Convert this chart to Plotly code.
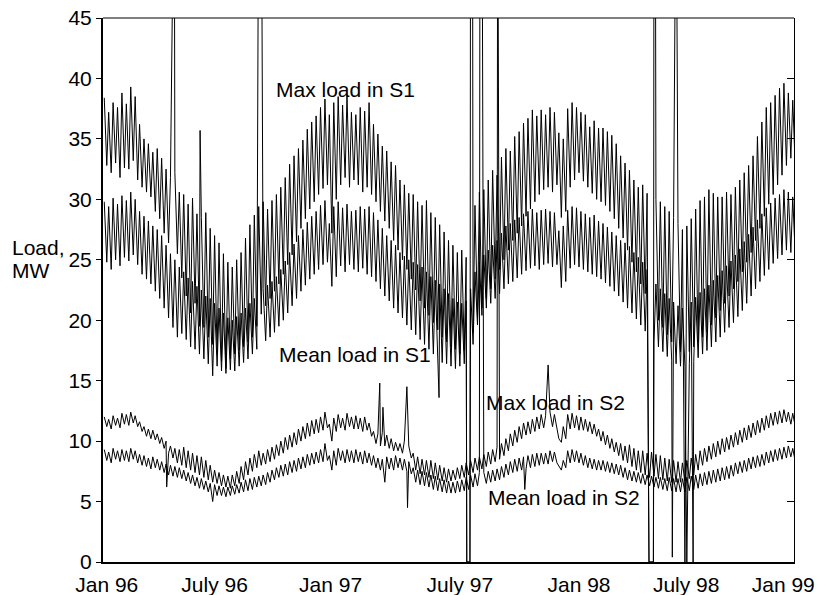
import pandas as pd
import plotly.graph_objects as go

# ---------------- data (MW) ----------------
# one weekday peak and one weekend trough per week, weeks starting Mon 1996-01-01
WEEK_START = pd.date_range("1996-01-01", periods=157, freq="7D")

MAX_S1_HI = [
    38.4, 37.2, 38.0, 37.6, 38.8, 37.9, 39.3, 38.5, 36.2, 35.0, 34.6, 33.9, 34.2,
    33.4, 32.5, 31.8, 32.2, 30.6, 30.4, 29.6, 30.1, 28.8, 28.5, 28.9, 27.6, 27.0,
    26.4, 25.5, 24.8, 24.4, 25.0, 25.6, 26.8, 27.9, 28.7, 29.4, 29.8, 29.2, 29.9, 30.4,
    31.0, 31.8, 32.9, 33.6, 34.2, 34.9, 35.8, 36.4, 36.9, 37.6, 38.3, 37.0, 38.0,
    38.5, 37.8, 38.6, 37.2, 37.0, 37.6, 37.3, 38.0, 36.2, 35.4, 34.4, 34.0, 33.1,
    32.8, 31.6, 31.2, 30.5, 30.4, 29.8, 29.5, 29.9, 28.9, 28.5, 27.9, 27.3, 26.6,
    26.2, 25.6, 25.8, 25.2, 27.5, 29.5, 30.6, 30.8, 31.6, 32.4, 32.0, 33.5, 34.2,
    34.0, 35.2, 35.6, 36.3, 36.7, 37.4, 36.9, 37.4, 37.0, 37.6, 37.2, 35.5, 35.0,
    37.5, 38.0, 37.6, 37.2, 37.0, 36.0, 36.5, 35.9, 35.9, 35.6, 35.3, 34.6, 33.6,
    33.0, 32.4, 31.6, 31.0, 31.2, 30.5, 30.6, 30.0, 29.8, 29.4, 29.0, 28.5, 28.0,
    27.5, 27.8, 28.4, 29.2, 29.9, 30.2, 30.8, 30.5, 30.2, 30.2, 30.6, 30.4, 31.0,
    31.6, 32.2, 32.8, 33.6, 35.2, 36.4, 37.6, 38.0, 38.6, 39.2, 39.6, 38.8, 38.2,
]
MAX_S1_LO = [
    32.8, 32.2, 33.0, 31.8, 32.6, 32.5, 33.2, 31.6, 31.0, 30.6, 30.2, 29.0, 28.4,
    27.2, 26.4, 24.8, 25.5, 23.5, 22.0, 20.6, 21.4, 19.5, 19.4, 18.6, 18.0, 17.2,
    16.6, 16.0, 16.8, 17.2, 17.5, 17.8, 18.2, 18.6, 19.5, 20.5, 21.2, 21.8, 22.4, 23.0,
    23.8, 24.6, 25.4, 26.5, 27.6, 28.4, 29.2, 29.8, 30.4, 30.9, 31.2, 27.2, 30.0,
    31.2, 31.8, 31.0, 31.6, 31.2, 30.6, 31.0, 30.4, 29.8, 29.0, 28.2, 27.6, 26.6,
    25.8, 25.0, 24.2, 23.4, 22.5, 21.6, 21.0, 20.4, 19.8, 19.2, 18.6, 18.2, 17.8,
    17.6, 17.2, 17.5, 17.8, 19.0, 20.2, 21.0, 21.8, 22.6, 23.4, 24.2, 25.0, 25.8,
    26.6, 27.2, 27.8, 28.6, 29.2, 29.8, 30.4, 30.8, 31.0, 30.6, 31.2, 28.5, 29.0,
    31.0, 31.6, 32.2, 31.5, 31.0, 30.5, 30.0, 29.8, 29.5, 29.0, 28.4, 27.6, 26.8,
    25.8, 24.8, 24.0, 23.0, 22.2, 21.5, 20.8, 20.0, 19.4, 18.8, 18.2, 17.8, 17.4,
    17.0, 17.4, 17.8, 18.2, 18.6, 19.0, 19.6, 20.2, 20.8, 21.4, 22.0, 22.6, 23.2,
    24.0, 24.8, 25.6, 26.6, 27.6, 28.6, 29.6, 30.4, 31.2, 32.0, 32.8, 33.4, 32.6,
]
MEAN_S1_HI = [
    29.8, 29.4, 30.1, 29.6, 30.3, 29.9, 30.6, 30.0, 29.0, 28.6, 28.2, 27.8, 27.5,
    27.0, 26.2, 25.5, 25.0, 24.4, 24.0, 23.5, 23.2, 22.8, 22.5, 22.0, 21.8, 21.4,
    21.0, 20.6, 20.2, 20.0, 20.3, 20.6, 21.0, 21.4, 21.8, 22.2, 22.6, 22.9, 23.2, 23.6,
    24.2, 24.9, 25.6, 26.3, 27.0, 27.5, 28.1, 28.6, 29.0, 29.5, 29.9, 28.0, 29.4,
    29.8, 29.3, 29.6, 29.0, 29.1, 29.4, 29.2, 29.4, 28.9, 28.3, 27.6, 27.0, 26.6,
    26.2, 25.6, 25.3, 25.0, 24.8, 24.6, 24.4, 24.0, 23.6, 23.3, 23.0, 22.6, 22.2,
    21.8, 21.5, 21.4, 21.6, 22.6, 24.0, 24.8, 25.4, 25.8, 26.2, 26.6, 27.2, 27.8,
    28.0, 28.3, 28.5, 28.8, 29.0, 29.2, 28.9, 29.1, 29.2, 29.0, 28.9, 27.4, 27.8,
    29.1, 29.4, 29.3, 29.0, 28.8, 28.5, 28.7, 28.2, 28.0, 27.7, 27.3, 27.0, 26.6,
    26.4, 26.1, 25.6, 25.2, 24.8, 24.2, 23.6, 23.0, 22.6, 22.2, 21.8, 21.5, 21.2,
    21.0, 21.2, 21.5, 21.9, 22.3, 22.6, 22.9, 23.3, 23.7, 24.1, 24.5, 24.9, 25.4,
    25.9, 26.5, 27.1, 27.7, 28.3, 28.8, 29.3, 29.7, 30.1, 30.4, 30.8, 30.6, 30.2,
]
MEAN_S1_LO = [
    24.8, 24.2, 25.0, 24.5, 25.2, 24.9, 25.4, 24.6, 23.8, 23.4, 23.0, 22.4, 21.8,
    21.0, 20.2, 19.4, 18.6, 18.9, 18.4, 17.8, 17.6, 17.2, 16.8, 16.4, 15.4, 16.2,
    15.8, 15.6, 15.9, 15.8, 16.2, 16.5, 16.8, 17.2, 17.6, 17.9, 18.3, 18.6, 19.0, 19.5,
    20.0, 20.6, 21.2, 21.8, 22.4, 22.9, 23.4, 23.8, 24.2, 24.6, 24.8, 22.8, 23.6,
    24.5, 24.0, 24.6, 24.2, 24.0, 24.3, 23.8, 23.6, 23.2, 22.6, 22.0, 21.6, 21.0,
    20.6, 20.2, 19.6, 19.2, 18.8, 18.4, 18.0, 17.6, 17.2, 16.8, 16.5, 16.4, 16.2,
    16.0, 16.2, 16.4, 16.6, 18.0, 19.6, 20.4, 21.0, 21.4, 21.8, 22.2, 22.6, 23.0,
    23.2, 23.5, 23.8, 24.1, 24.3, 24.5, 24.2, 24.6, 24.7, 24.4, 24.6, 22.7, 23.2,
    24.3, 24.6, 24.4, 24.2, 24.0, 23.8, 23.6, 23.4, 23.1, 22.8, 22.4, 22.0, 21.5,
    21.0, 20.6, 20.1, 19.6, 19.1, 18.6, 18.2, 17.8, 17.4, 17.0, 16.7, 16.4, 16.2,
    16.2, 16.4, 16.6, 16.9, 17.2, 17.5, 17.8, 18.2, 18.6, 19.0, 19.4, 19.8, 20.3,
    20.8, 21.4, 22.0, 22.6, 23.2, 23.7, 24.2, 24.7, 25.1, 25.4, 25.8, 25.6, 25.3,
]
MAX_S2_HI = [
    12.0, 11.8, 12.1, 11.9, 12.3, 12.2, 12.4, 12.1, 11.6, 11.2, 11.0, 10.9, 10.6,
    10.3, 10.0, 9.6, 9.4, 9.3, 9.5, 9.2, 9.0, 8.8, 8.7, 8.4, 8.0, 7.6,
    7.4, 7.2, 7.1, 7.2, 7.5, 7.9, 8.3, 8.6, 8.9, 9.2, 9.0, 9.3, 9.5, 9.7,
    10.0, 10.3, 10.5, 10.7, 11.0, 11.2, 11.5, 11.7, 11.8, 12.0, 12.4, 11.4, 11.9,
    12.2, 11.9, 12.3, 12.0, 12.1, 11.9, 12.0, 11.5, 10.8, 10.6, 10.7, 10.5, 10.2,
    9.9, 9.8, 10.0, 9.6, 9.0, 8.7, 8.5, 8.4, 8.4, 8.2, 8.0, 7.8, 7.7,
    7.6, 7.8, 8.0, 8.2, 8.4, 8.6, 8.7, 8.9, 9.1, 9.3, 9.5, 9.8, 10.2,
    10.6, 10.9, 11.2, 11.5, 11.6, 11.8, 12.0, 12.2, 12.1, 12.4, 12.2, 10.2, 11.2,
    12.2, 12.3, 12.1, 12.0, 11.8, 11.6, 11.4, 11.0, 10.8, 10.5, 10.2, 9.9, 9.8,
    9.6, 9.7, 9.4, 9.2, 9.2, 9.0, 9.1, 8.9, 8.8, 8.6, 8.5, 8.4, 8.3,
    8.2, 8.4, 8.6, 8.9, 9.2, 9.4, 9.6, 9.8, 10.0, 10.2, 10.3, 10.5, 10.7,
    10.9, 11.1, 11.3, 11.5, 11.7, 11.9, 12.1, 12.3, 12.4, 12.5, 12.6, 12.4, 12.3,
]
MAX_S2_LO = [
    11.2, 11.0, 11.3, 11.1, 11.4, 11.3, 11.5, 11.2, 10.8, 10.4, 10.2, 10.1, 9.8,
    9.4, 9.0, 8.6, 8.2, 8.0, 7.8, 7.6, 7.4, 7.2, 7.0, 6.8, 6.6, 6.5,
    6.3, 6.2, 6.1, 6.3, 6.5, 6.8, 7.2, 7.5, 7.8, 8.0, 8.1, 8.3, 8.5, 8.8,
    9.0, 9.3, 9.5, 9.7, 10.0, 10.2, 10.4, 10.6, 10.7, 10.9, 11.1, 10.0, 10.8,
    11.1, 10.9, 11.2, 11.0, 11.0, 10.8, 10.9, 10.4, 9.8, 9.6, 9.6, 9.4, 9.2,
    9.2, 9.0, 9.1, 8.6, 7.6, 7.3, 7.2, 7.0, 6.9, 6.8, 6.7, 6.6, 6.7,
    6.8, 6.9, 7.0, 7.2, 7.4, 7.6, 7.7, 7.9, 8.1, 8.3, 8.5, 8.8, 9.2,
    9.6, 9.9, 10.2, 10.5, 10.6, 10.8, 11.0, 11.1, 11.1, 11.2, 11.0, 9.9, 10.2,
    11.0, 11.1, 10.9, 10.9, 10.8, 10.6, 10.4, 10.0, 9.7, 9.4, 9.1, 8.8, 8.4,
    8.2, 7.9, 7.6, 7.4, 7.2, 7.0, 7.1, 6.9, 6.8, 6.7, 6.6, 6.6, 6.6,
    6.7, 6.9, 7.2, 7.6, 8.0, 8.3, 8.5, 8.7, 8.9, 9.1, 9.3, 9.5, 9.7,
    9.9, 10.1, 10.3, 10.5, 10.7, 10.9, 11.1, 11.3, 11.4, 11.5, 11.6, 11.4, 11.2,
]
MEAN_S2_HI = [
    9.3, 9.1, 9.4, 9.2, 9.3, 9.2, 9.4, 9.2, 8.9, 8.8, 8.6, 8.7, 8.5,
    8.3, 8.1, 8.0, 7.9, 7.8, 7.6, 7.4, 7.2, 7.0, 6.9, 6.7, 6.5, 6.4,
    6.3, 6.2, 6.2, 6.3, 6.4, 6.6, 6.8, 6.9, 7.0, 7.1, 7.2, 7.4, 7.6, 7.8,
    8.0, 8.1, 8.3, 8.4, 8.6, 8.7, 8.9, 9.0, 9.1, 9.3, 9.8, 8.8, 9.2,
    9.4, 9.2, 9.3, 9.2, 9.3, 9.1, 9.2, 9.0, 8.8, 8.6, 8.5, 8.7, 8.6,
    8.8, 8.6, 8.5, 8.3, 7.8, 7.6, 7.5, 7.4, 7.2, 7.1, 6.9, 6.8, 6.7,
    6.6, 6.7, 6.8, 7.0, 7.2, 7.3, 7.4, 7.4, 7.5, 7.6, 7.7, 7.9, 8.1,
    8.3, 8.5, 8.6, 8.7, 8.8, 8.9, 9.0, 9.0, 9.0, 9.2, 9.1, 7.9, 8.4,
    9.2, 9.3, 9.2, 9.0, 8.8, 8.6, 8.5, 8.4, 8.4, 8.3, 8.2, 8.1, 8.0,
    7.8, 7.6, 7.5, 7.4, 7.3, 7.2, 7.1, 7.0, 7.0, 6.9, 7.0, 6.9, 6.9,
    6.9, 7.0, 7.1, 7.2, 7.3, 7.4, 7.5, 7.6, 7.7, 7.8, 7.9, 8.0, 8.2,
    8.3, 8.4, 8.6, 8.7, 8.8, 8.9, 9.1, 9.2, 9.3, 9.4, 9.5, 9.6, 9.4,
]
MEAN_S2_LO = [
    8.4, 8.2, 8.5, 8.3, 8.4, 8.3, 8.5, 8.2, 8.0, 7.9, 7.7, 7.8, 7.6,
    7.4, 7.2, 7.1, 7.0, 6.9, 6.7, 6.5, 6.3, 6.1, 6.0, 5.8, 5.0, 5.5,
    5.5, 5.4, 5.5, 5.6, 5.7, 5.8, 5.9, 6.0, 6.2, 6.3, 6.4, 6.6, 6.8, 7.0,
    7.1, 7.2, 7.4, 7.5, 7.7, 7.8, 8.0, 8.1, 8.2, 8.3, 8.4, 7.6, 8.0,
    8.4, 8.2, 8.3, 8.2, 8.3, 8.1, 8.2, 8.0, 7.8, 7.6, 6.6, 7.7, 7.6,
    7.8, 7.6, 7.5, 7.3, 6.6, 6.4, 6.3, 6.2, 6.0, 5.9, 5.8, 5.7, 5.7,
    5.7, 5.8, 5.9, 6.0, 6.2, 6.3, 6.4, 6.5, 6.6, 6.7, 6.8, 7.0, 7.2,
    7.4, 7.5, 7.6, 7.7, 7.8, 7.9, 8.0, 8.1, 8.1, 8.3, 8.2, 7.6, 7.8,
    8.2, 8.3, 8.2, 8.0, 7.8, 7.7, 7.6, 7.6, 7.5, 7.4, 7.3, 7.2, 7.0,
    6.8, 6.7, 6.6, 6.5, 6.4, 6.3, 6.2, 6.1, 6.0, 5.9, 5.9, 5.8, 5.8,
    5.8, 5.9, 6.0, 6.1, 6.3, 6.4, 6.5, 6.6, 6.7, 6.8, 6.9, 7.1, 7.3,
    7.4, 7.5, 7.7, 7.8, 7.9, 8.0, 8.2, 8.3, 8.4, 8.5, 8.6, 8.7, 8.3,
]

# irregular days (outages, spikes): (first day, last day, value)
MAX_S1_EVENTS = [
    ("1996-04-20", "1996-04-23", 60.0),
    ("1996-06-03", "1996-06-03", 35.7),
    ("1997-07-31", "1997-08-05", 0.0),
    ("1997-08-06", "1997-08-09", 60.0),
    ("1998-05-16", "1998-05-23", 0.0),
    ("1998-05-24", "1998-05-26", 60.0),
    ("1998-06-28", "1998-06-28", 60.0),
    ("1998-07-12", "1998-07-12", 0.0),
]
MEAN_S1_EVENTS = [
    ("1996-09-04", "1996-09-08", 60.0),
    ("1997-06-17", "1997-06-17", 13.6),
    ("1997-07-31", "1997-08-05", 0.0),
    ("1998-05-16", "1998-05-23", 0.0),
    ("1998-06-22", "1998-06-22", 0.4),
    ("1998-07-15", "1998-07-15", 0.0),
    ("1998-07-25", "1998-07-25", 0.0),
]
MAX_S2_EVENTS = [
    ("1996-04-11", "1996-04-11", 6.2),
    ("1997-03-15", "1997-03-15", 14.8),
    ("1997-03-20", "1997-03-20", 12.8),
    ("1997-04-27", "1997-04-27", 14.5),
    ("1997-09-18", "1997-09-18", 60.0),
    ("1997-12-07", "1997-12-07", 16.3),
]
MEAN_S2_EVENTS = [
    ("1997-04-28", "1997-04-28", 4.5),
    ("1997-08-21", "1997-08-24", 60.0),
    ("1997-10-31", "1997-10-31", 6.0),
]

X_TICK_TEXT = ["Jan 96", "July 96", "Jan 97", "July 97", "Jan 98", "July 98", "Jan 99"]
X_TICK_POS = ["1996-01-07", "1996-06-26", "1996-12-27", "1997-07-20",
              "1998-01-25", "1998-07-14", "1998-12-15"]

for arr in (MAX_S1_HI, MAX_S1_LO, MEAN_S1_HI, MEAN_S1_LO,
            MAX_S2_HI, MAX_S2_LO, MEAN_S2_HI, MEAN_S2_LO):
    assert len(arr) == len(WEEK_START), len(arr)


def build(hi, lo, events):
    pts = []
    for d, h, l in zip(WEEK_START, hi, lo):
        pts.append((d + pd.Timedelta(days=2), h))
        pts.append((d + pd.Timedelta(days=6), l))
    for s, e, v in events:
        s, e = pd.Timestamp(s), pd.Timestamp(e)
        pts = [p for p in pts if not (s <= p[0] <= e)]
        pts.append((s, v))
        if e != s:
            pts.append((e, v))
    pts.sort(key=lambda p: p[0])
    return [p[0] for p in pts], [p[1] for p in pts]


FONT = "Liberation Sans, Arial, Helvetica, sans-serif"
fig = go.Figure()
for hi, lo, ev in ((MAX_S1_HI, MAX_S1_LO, MAX_S1_EVENTS),
                   (MEAN_S1_HI, MEAN_S1_LO, MEAN_S1_EVENTS),
                   (MAX_S2_HI, MAX_S2_LO, MAX_S2_EVENTS),
                   (MEAN_S2_HI, MEAN_S2_LO, MEAN_S2_EVENTS)):
    xs, ys = build(hi, lo, ev)
    fig.add_trace(go.Scatter(x=xs, y=ys, mode="lines",
                             line=dict(color="#000000", width=1.0),
                             showlegend=False, hoverinfo="skip"))
# empty trace so the right-hand mirror axis is drawn
fig.add_trace(go.Scatter(x=[], y=[], yaxis="y2", showlegend=False, hoverinfo="skip"))

fig.update_layout(
    width=818, height=595,
    margin=dict(l=103, r=24, t=18, b=33, autoexpand=False),
    paper_bgcolor="white", plot_bgcolor="white",
    font=dict(family=FONT, size=21, color="black"),
    xaxis=dict(range=["1996-01-01", "1999-01-01"], type="date", automargin=False,
               tickvals=X_TICK_POS, ticktext=X_TICK_TEXT, ticks="",
               showgrid=False, zeroline=False, showline=True,
               linecolor="black", linewidth=2, ticklabelstandoff=3,
               tickfont=dict(size=21)),
    yaxis=dict(range=[0, 45], tickvals=list(range(0, 50, 5)), ticks="outside",
               automargin=False, ticklen=5, tickcolor="black", showgrid=False,
               zeroline=False, showline=True, linecolor="black", linewidth=2,
               tickfont=dict(size=21)),
    yaxis2=dict(range=[0, 45], overlaying="y", side="right", automargin=False,
                tickvals=list(range(0, 50, 5)), ticks="inside", ticklen=7,
                tickcolor="black", showticklabels=False, showgrid=False,
                zeroline=False, showline=True, linecolor="black", linewidth=1),
    shapes=[dict(type="line", xref="paper", yref="paper", x0=0, x1=1, y0=1, y1=1,
                 line=dict(color="black", width=1))],
)

ANNOTS = [
    ("Max load in S1", "1997-01-20", 39.1),
    ("Mean load in S1", "1997-02-03", 17.15),
    ("Max load in S2", "1997-12-18", 13.2),
    ("Mean load in S2", "1998-01-01", 5.35),
]
for txt, xd, yv in ANNOTS:
    fig.add_annotation(text=txt, x=xd, y=yv, xref="x", yref="y", showarrow=False,
                       xanchor="center", yanchor="middle",
                       font=dict(family=FONT, size=21, color="black"))
fig.add_annotation(text="Load,", x=-0.1346, y=0.578, xref="paper", yref="paper",
                   showarrow=False, xanchor="left", yanchor="middle",
                   font=dict(family=FONT, size=21, color="black"))
fig.add_annotation(text="MW", x=-0.1346, y=0.536, xref="paper", yref="paper",
                   showarrow=False, xanchor="left", yanchor="middle",
                   font=dict(family=FONT, size=21, color="black"))

fig.write_html("out.html")
